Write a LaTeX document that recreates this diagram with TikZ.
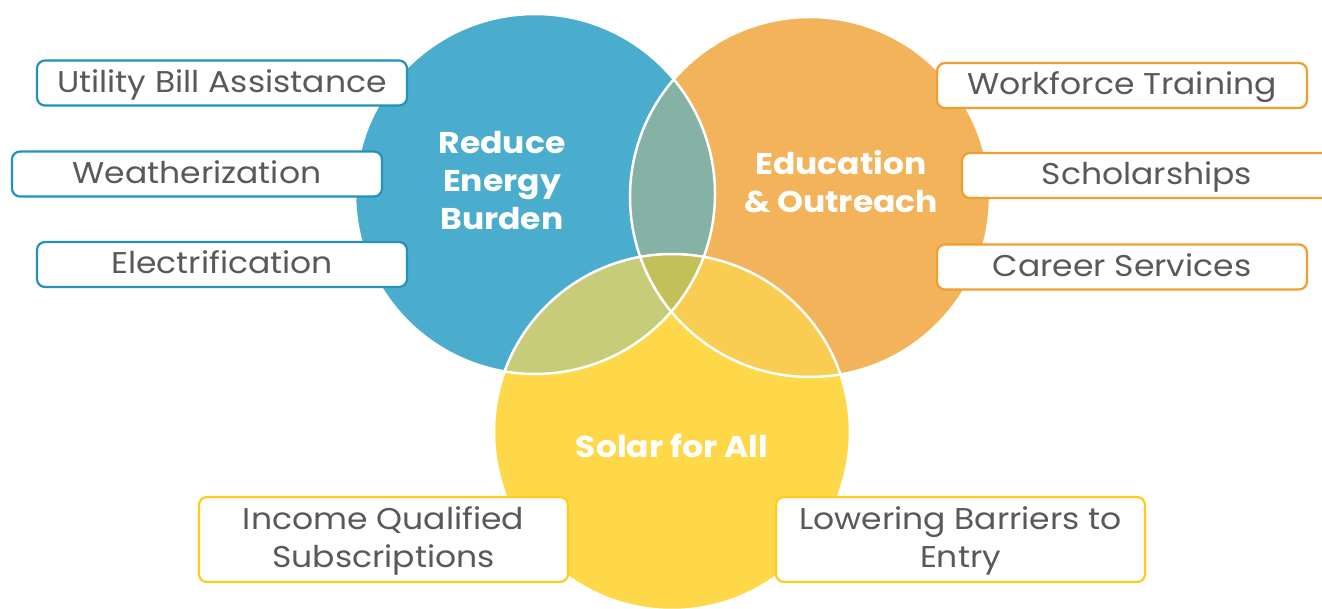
\documentclass[tikz,border=0pt]{standalone}
\usepackage{fontspec}
\setmainfont{Poppins}[FakeStretch=1.1]
\definecolor{cblue}{HTML}{4BADCD}
\definecolor{corange}{HTML}{F2B35B}
\definecolor{cyellow}{HTML}{FFD84A}
\definecolor{cbo}{HTML}{86B1A5}
\definecolor{cby}{HTML}{C6CC78}
\definecolor{coy}{HTML}{F9CC52}
\definecolor{cboy}{HTML}{C3C05A}
\definecolor{bblue}{HTML}{2191BD}
\definecolor{borange}{HTML}{EE9F2D}
\definecolor{byellow}{HTML}{FFCC1A}
\definecolor{tgray}{HTML}{595959}
\tikzset{
  itembox/.style={draw, fill=white, rounded corners=8pt, line width=2.2pt,
    minimum width=370pt, minimum height=45pt, inner sep=0pt, text=tgray,
    font=\fontsize{30}{38}\selectfont, align=center,
    text height=24pt, text depth=5pt},
  bluebox/.style={itembox, draw=bblue},
  orangebox/.style={itembox, draw=borange},
  yellowbox/.style={itembox, draw=byellow, minimum width=369pt, minimum height=85pt,
    text height=60pt, text depth=5pt},
  biglabel/.style={text=white, font=\fontsize{30}{38}\selectfont\bfseries, align=center, inner sep=0pt},
  ring/.style={draw=white, line width=2.5pt}
}
\begin{document}
\begin{tikzpicture}[x=1pt,y=-1pt]
\useasboundingbox (0,0) rectangle (1322,609);
\clip (0,0) rectangle (1322,609);
\coordinate (cB) at (535,194);
\coordinate (cO) at (810,197);
\coordinate (cY) at (672,432);
\def\rB{180pt}\def\rO{180pt}\def\rY{178pt}
\fill[cblue] (cB) circle (\rB);
\fill[corange] (cO) circle (\rO);
\fill[cyellow] (cY) circle (\rY);
\begin{scope}
  \clip (cB) circle (\rB);
  \fill[cbo] (cO) circle (\rO);
  \fill[cby] (cY) circle (\rY);
\end{scope}
\begin{scope}
  \clip (cO) circle (\rO);
  \fill[coy] (cY) circle (\rY);
\end{scope}
\begin{scope}
  \clip (cB) circle (\rB);
  \clip (cO) circle (\rO);
  \fill[cboy] (cY) circle (\rY);
\end{scope}
\draw[ring] (cB) circle (\rB);
\draw[ring] (cO) circle (\rO);
\draw[ring] (cY) circle (\rY);

\node[biglabel] (lb) at (502,181) {Reduce\\Energy\\Burden};
\node[biglabel] (lo) at (841,182) {Education\\\& Outreach};
\node[biglabel] (ly) at (672,446) {Solar for All};

\node[bluebox] (b1) at (222,83) {Utility Bill Assistance};
\node[bluebox] (b2) at (197,174) {Weatherization};
\node[bluebox] (b3) at (222,264.5) {Electrification};
\node[orangebox] (o1) at (1122,85.5) {Workforce Training};
\node[orangebox] (o2) at (1147,175.5) {Scholarships};
\node[orangebox] (o3) at (1122,267) {Career Services};
\node[yellowbox] (y1) at (383.5,539.5) {Income Qualified\\Subscriptions};
\node[yellowbox] (y2) at (960.5,539.5) {Lowering Barriers to\\Entry};
\end{tikzpicture}
\end{document}
